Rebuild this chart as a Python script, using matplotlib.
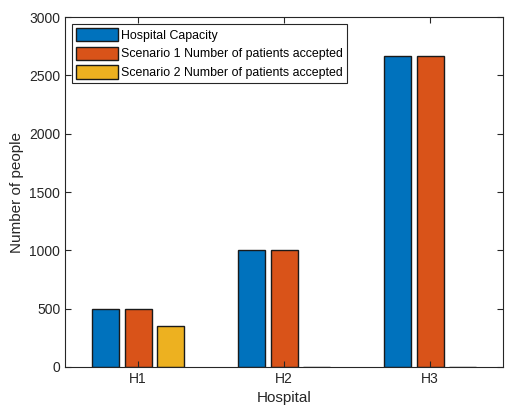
import matplotlib.pyplot as plt
import numpy as np

plt.rcParams['font.family'] = ['Liberation Sans', 'DejaVu Sans']

hospitals = ['H1', 'H2', 'H3']
capacity = [500, 1000, 2667]
scenario1 = [500, 1000, 2667]
scenario2 = [350, 0, 0]
series_names = ['Hospital Capacity',
                'Scenario 1 Number of patients accepted',
                'Scenario 2 Number of patients accepted']
colors = ['#0072BD', '#D95319', '#EDB120']

fig = plt.figure(figsize=(5.05, 4.09), dpi=100)
ax = fig.add_axes([0.129, 0.103, 0.867, 0.855])

x = np.arange(1, len(hospitals) + 1)
offsets = [-0.222, 0.0, 0.222]
width = 0.185
for vals, off, col, name in zip([capacity, scenario1, scenario2], offsets, colors, series_names):
    ax.bar(x + off, vals, width, color=col, edgecolor='#1a1a1a', linewidth=1.0, label=name)

ax.set_xlim(0.5, 3.5)
ax.set_ylim(0, 3000)
ax.set_xticks(x)
ax.set_xticklabels(hospitals)
ax.set_yticks(np.arange(0, 3001, 500))
ax.tick_params(direction='in', length=4.5, width=0.8, colors='#262626',
               labelsize=10, top=True, right=True)
for s in ax.spines.values():
    s.set_color('#262626')
    s.set_linewidth(0.8)
ax.set_xlabel('Hospital', fontsize=11, color='#262626')
ax.set_ylabel('Number of people', fontsize=11, color='#262626')

leg = ax.legend(loc='upper left', fontsize=8.9, handlelength=3.4, handleheight=1.3,
                handletextpad=0.3, labelspacing=0.4, borderpad=0.3,
                borderaxespad=0.55, fancybox=False, framealpha=1)
leg.get_frame().set_edgecolor('#262626')
leg.get_frame().set_linewidth(0.8)

fig.savefig('out.png', dpi=100)
